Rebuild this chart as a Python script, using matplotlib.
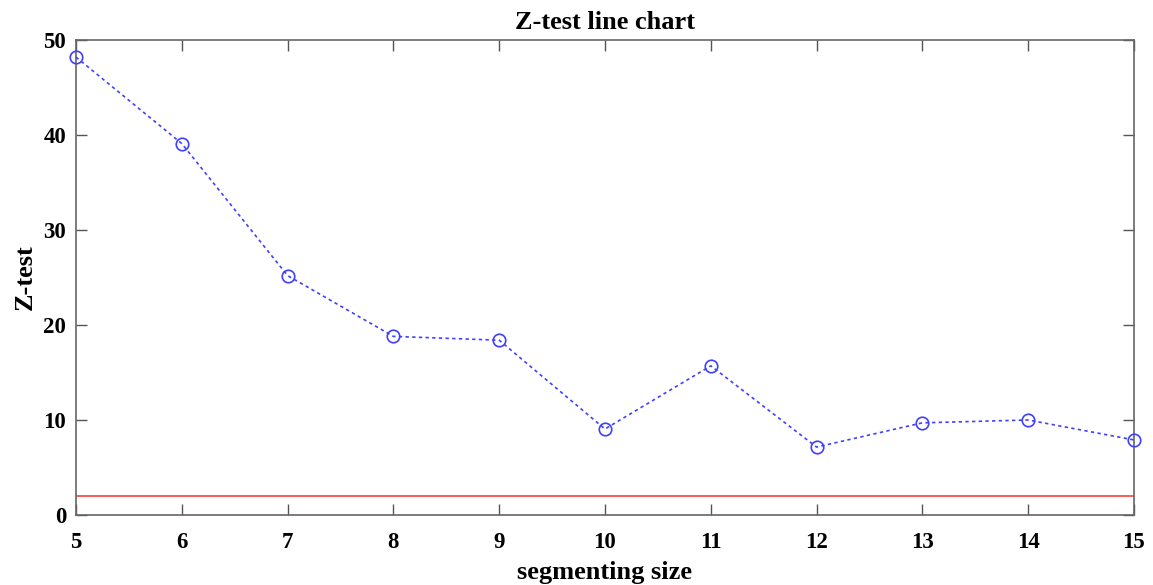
import matplotlib
matplotlib.use('Agg')
import matplotlib.pyplot as plt

plt.rcParams['font.family'] = 'Liberation Serif'
plt.rcParams['font.weight'] = 'bold'

seg_size = [5, 6, 7, 8, 9, 10, 11, 12, 13, 14, 15]
z_test = [48.2, 39.1, 25.2, 18.8, 18.4, 9.05, 15.7, 7.15, 9.7, 10.0, 7.9]
z_crit = 1.96

fig = plt.figure(figsize=(11.53, 5.85), dpi=100)
ax = fig.add_axes([0.0659, 0.1197, 0.9176, 0.8119])

ax.plot(seg_size, z_test, color='#4040ff', linestyle=(0, (2, 2)), linewidth=1.2,
        marker='o', markersize=9, markerfacecolor='none', markeredgewidth=1.2,
        clip_on=False, zorder=3)
ax.axhline(z_crit, color='#ff4d4d', linewidth=1.3)

ax.set_xlim(5, 15)
ax.set_ylim(0, 50)
ax.set_xticks(seg_size)
ax.set_yticks([0, 10, 20, 30, 40, 50])
ax.tick_params(direction='in', top=True, right=True, length=8, width=1,
               color='#555555', labelsize=16.5)
ax.tick_params(axis='x', pad=12)
ax.tick_params(axis='y', pad=7)
for s in ax.spines.values():
    s.set_color('#666666')
    s.set_linewidth(1.2)

ax.set_title('Z-test line chart', fontsize=19, fontweight='bold', pad=8)
ax.set_xlabel('segmenting size', fontsize=19, fontweight='bold', labelpad=6)
ax.set_ylabel('Z-test', fontsize=19, fontweight='bold', labelpad=5)

fig.savefig('out.png', dpi=100)
